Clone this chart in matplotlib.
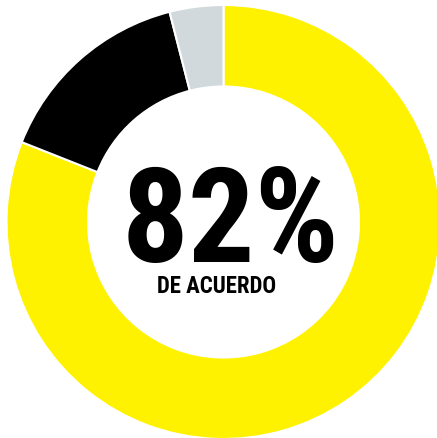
import matplotlib
matplotlib.use("Agg")
import matplotlib.pyplot as plt

labels = ["De acuerdo", "En desacuerdo", "No sabe"]
values = [81, 15, 4]
colors = ["#FFF200", "#000000", "#D1D9DD"]
main_text = "82%"
sub_text = "DE ACUERDO"

W, H = 437, 439
fig = plt.figure(figsize=(W / 100, H / 100), dpi=100)
ax = fig.add_axes([0, 0, 1, 1])
R = 217.0
cx, cy = 223.5, 223.0

ax.pie(values, colors=colors, startangle=90, counterclock=False, radius=1.0,
       wedgeprops=dict(width=1 - 135.5 / 217, edgecolor="white", linewidth=1.5))
ax.set_xlim(-cx / R, (W - cx) / R)
ax.set_ylim(-(H - cy) / R, cy / R)
ax.set_aspect("auto")
ax.axis("off")

fam = ["Roboto Condensed", "DejaVu Sans"]
ax.text((230.5 - cx) / R, (cy - 262) / R, main_text, ha="center", va="baseline",
        fontsize=95, fontweight="bold", family=fam, fontstretch="condensed", color="black")
ax.text((217 - cx) / R, (cy - 293) / R, sub_text, ha="center", va="baseline",
        fontsize=16.5, fontweight="bold", family=fam, fontstretch="condensed", color="black")

fig.savefig("out.png", dpi=100)
